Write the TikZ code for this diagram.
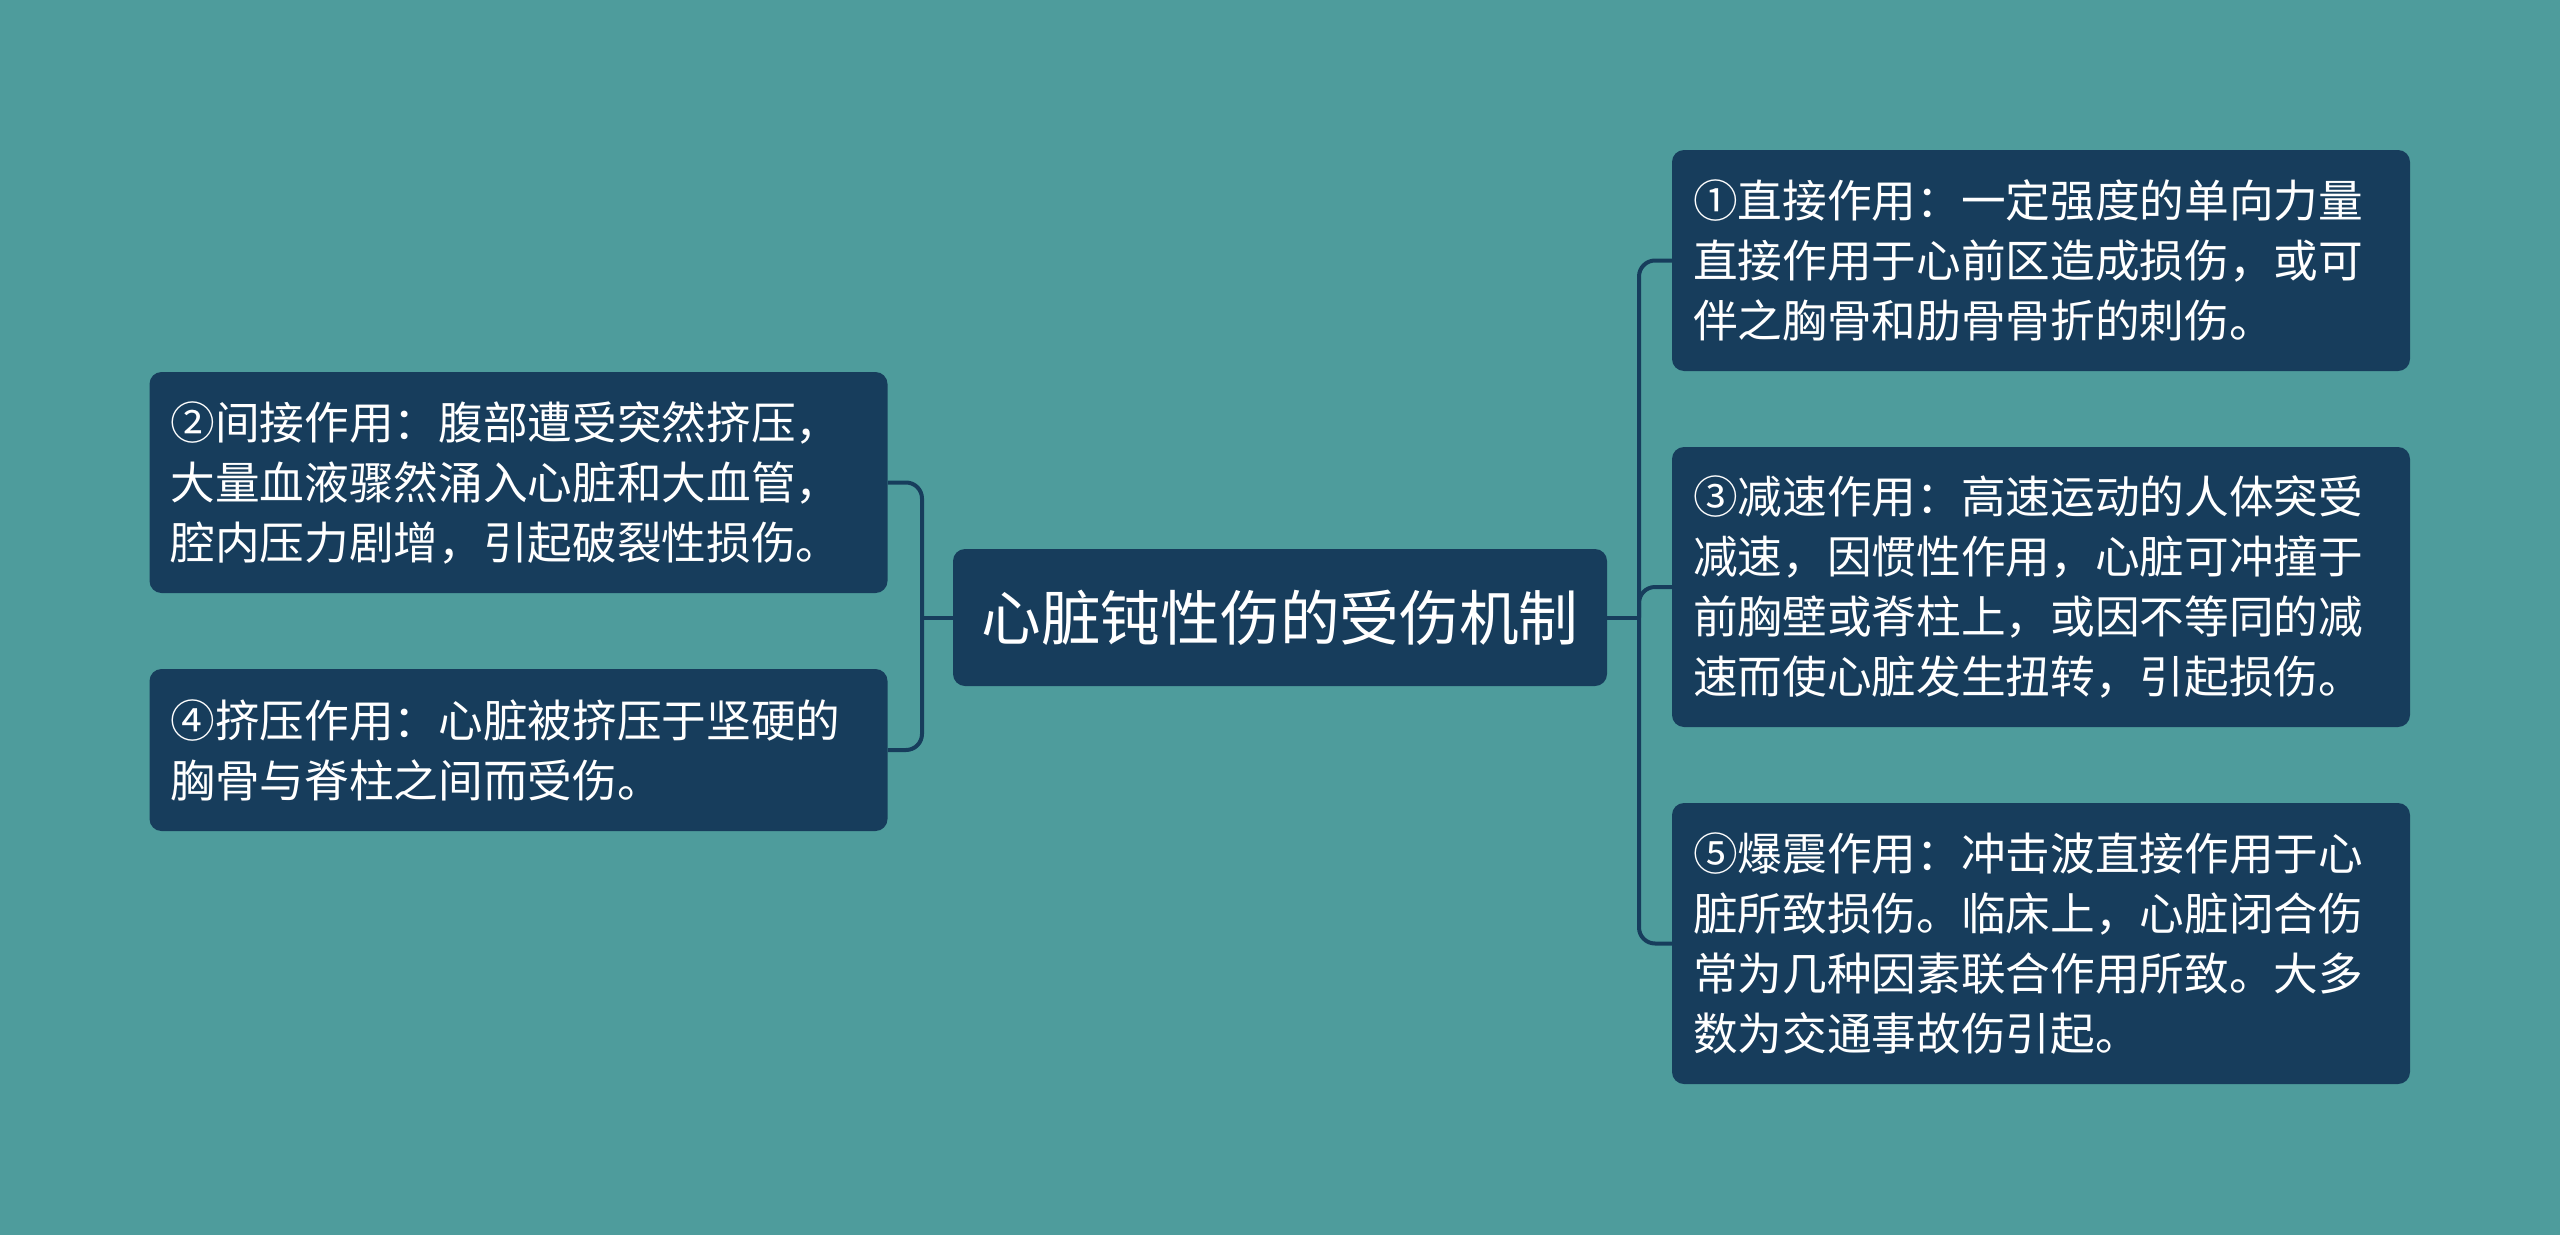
\documentclass[tikz,border=0pt]{standalone}
\usepackage{fontspec}
\setmainfont{Noto Sans CJK SC}
\definecolor{bgc}{HTML}{4E9C9C}
\definecolor{ndc}{HTML}{173D5C}
\begin{document}
\begin{tikzpicture}[x=0.75pt,y=-0.75pt,
  leaf/.style={draw=none,fill=ndc,rounded corners=9pt,text=white,inner sep=0pt,
    minimum width=553.5pt,text width=522pt,align=left,
    font=\fontsize{33.5}{45}\selectfont},
  root/.style={draw=none,fill=ndc,rounded corners=9pt,text=white,inner sep=0pt,
    minimum width=490.5pt,minimum height=102.75pt,align=center,
    font=\fontsize{44.8}{52}\selectfont},
  conn/.style={draw=ndc,line width=3pt,rounded corners=12pt}]
\fill[bgc] (0,0) rectangle (2560,1235);
\useasboundingbox (0,0) rectangle (2560,1235);

\node[root] (c) at (1280,617.5) {心脏钝性伤的受伤机制};

\node[leaf,minimum height=165.75pt] (l1) at (518.5,482.5) {②间接作用：腹部遭受突然挤压，\\大量血液骤然涌入心脏和大血管，\\腔内压力剧增，引起破裂性损伤。};
\node[leaf,minimum height=121.5pt] (l2) at (518.5,750) {④挤压作用：心脏被挤压于坚硬的\\胸骨与脊柱之间而受伤。};

\node[leaf,minimum height=165.75pt] (r1) at (2041,260.5) {①直接作用：一定强度的单向力量\\直接作用于心前区造成损伤，或可\\伴之胸骨和肋骨骨折的刺伤。};
\node[leaf,minimum height=210pt] (r2) at (2041,587) {③减速作用：高速运动的人体突受\\减速，因惯性作用，心脏可冲撞于\\前胸壁或脊柱上，或因不等同的减\\速而使心脏发生扭转，引起损伤。};
\node[leaf,minimum height=210.75pt] (r3) at (2041,943.5) {⑤爆震作用：冲击波直接作用于心\\脏所致损伤。临床上，心脏闭合伤\\常为几种因素联合作用所致。大多\\数为交通事故伤引起。};

\coordinate (jl) at (922,617.5);
\coordinate (jr) at (1639,617.5);

\draw[conn] (c.west) -- (jl);
\draw[conn] (l1.east) -| (jl) |- (l2.east);
\draw[conn] (c.east) -- (jr);
\draw[conn] (r1.west) -| (jr) |- (r3.west);
\draw[conn] (r2.west) -| (jr);
\end{tikzpicture}
\end{document}
